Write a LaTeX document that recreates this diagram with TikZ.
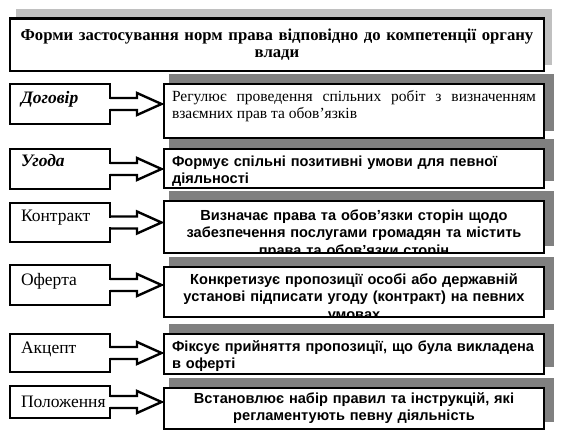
\documentclass[tikz,border=0pt]{standalone}
\usepackage{fontspec}
\setmainfont{Liberation Serif}
\newfontfamily\arialf{Liberation Sans}
\usetikzlibrary{calc,backgrounds}
\definecolor{lightshadow}{HTML}{C0C0C0}
\definecolor{darkshadow}{HTML}{808080}
\begin{document}
\begin{tikzpicture}[x=1pt,y=-1pt,
  border/.style={draw=black, line width=2.6pt},
  basebox/.style={fill=white, inner ysep=0pt, outer sep=0pt, anchor=north west},
  titlebox/.style={basebox, border, anchor=center, minimum width=534pt, minimum height=52.5pt,
     text width=524pt, align=center, font=\bfseries\fontsize{16.7}{17}\selectfont},
  lbox/.style={basebox, border, text width=78pt, inner xsep=11pt, align=left,
     font=\fontsize{17.5}{19}\selectfont},
  rbox/.style={basebox, text width=364pt, inner xsep=8pt},
  rserif/.style={rbox, align=justify, font=\fontsize{15.5}{16.5}\selectfont},
  rsans/.style={rbox, font=\arialf\bfseries\fontsize{14.6}{17.5}\selectfont},
  arrowline/.style={draw=black, line width=2.4pt, line join=miter},
  tshadow/.style={fill=lightshadow},
  rshadow/.style={fill=darkshadow}
]
\useasboundingbox (0,0) rectangle (563,444);

% title
\node[titlebox] (title) at (277,44.75)
  {Форми застосування норм права відповідно до компетенції органу\\ влади};

% left boxes
\node[lbox, text height=19pt, text depth=21pt] (l1) at (10,84) {\bfseries\itshape Договір};
\node[lbox, text height=18pt, text depth=22pt] (l2) at (10,149) {\bfseries\itshape Угода};
\node[lbox, text height=18pt, text depth=21pt] (l3) at (10,203) {Контракт};
\node[lbox, text height=20pt, text depth=20pt] (l4) at (10,265) {Оферта};
\node[lbox, text height=19pt, text depth=19pt] (l5) at (10,334) {Акцепт};
\node[lbox, text height=21pt, text depth=11pt] (l6) at (10,386) {Положення};

% right boxes (text clipped to the box)
\begin{scope}
  \clip (164,84) rectangle (544,138);
  \node[rserif, text height=18pt, text depth=36pt] (r1) at (164,84)
    {Регулює проведення спільних робіт з визначенням\linebreak взаємних прав та обов’язків};
\end{scope}
\begin{scope}
  \clip (164,149) rectangle (544,188);
  \node[rsans, align=left, text height=17pt, text depth=22pt] (r2) at (164,149)
    {Формує спільні позитивні умови для певної\\ діяльності};
\end{scope}
\begin{scope}
  \clip (164,201) rectangle (544,253);
  \node[rsans, align=center, text height=19pt, text depth=33pt] (r3) at (164,201)
    {Визначає права та обов’язки сторін щодо\\ забезпечення послугами громадян та містить\\ права та обов’язки сторін};
\end{scope}
\begin{scope}
  \clip (164,267) rectangle (544,317);
  \node[rsans, align=center, text height=17pt, text depth=33pt] (r4) at (164,267)
    {Конкретизує пропозиції особі або державній\\ установі підписати угоду (контракт) на певних\\ умовах};
\end{scope}
\begin{scope}
  \clip (164,334) rectangle (544,374);
  \node[rsans, align=left, text height=17pt, text depth=23pt] (r5) at (164,334)
    {Фіксує прийняття пропозиції, що була викладена\\ в оферті};
\end{scope}
\begin{scope}
  \clip (164,388) rectangle (544,429);
  \node[rsans, align=center, text height=15pt, text depth=26pt] (r6) at (164,388)
    {Встановлює набір правил та інструкцій, які\\ регламентують певну діяльність};
\end{scope}

\foreach \i in {1,...,6} {
  \draw[border] (r\i.north west) rectangle (r\i.south east);
}

% shadows
\begin{pgfonlayer}{background}
  \fill[tshadow] ($(title.north west)+(6,-9)$) rectangle ($(title.south east)+(8,-6)$);
  \foreach \i in {1,...,6} {
    \fill[rshadow] ($(r\i.north west)+(5,-10)$) rectangle ($(r\i.south east)+(10,-7)$);
  }
\end{pgfonlayer}

% block arrows
\foreach \i in {1,...,6} {
  \fill[white] ($(l\i.east)+(-1.3,-4.8)$) rectangle ($(l\i.east)+(27,4.8)$);
  \draw[arrowline] ($(l\i.east)+(0,-6)$) -- ++(27,0) -- ++(0,-5)
     -- ($(r\i.west|-l\i.east)+(-2.5,0)$) -- ($(l\i.east)+(27,11)$) -- ++(0,-5) -- ++(-27,0);
}
\end{tikzpicture}
\end{document}
